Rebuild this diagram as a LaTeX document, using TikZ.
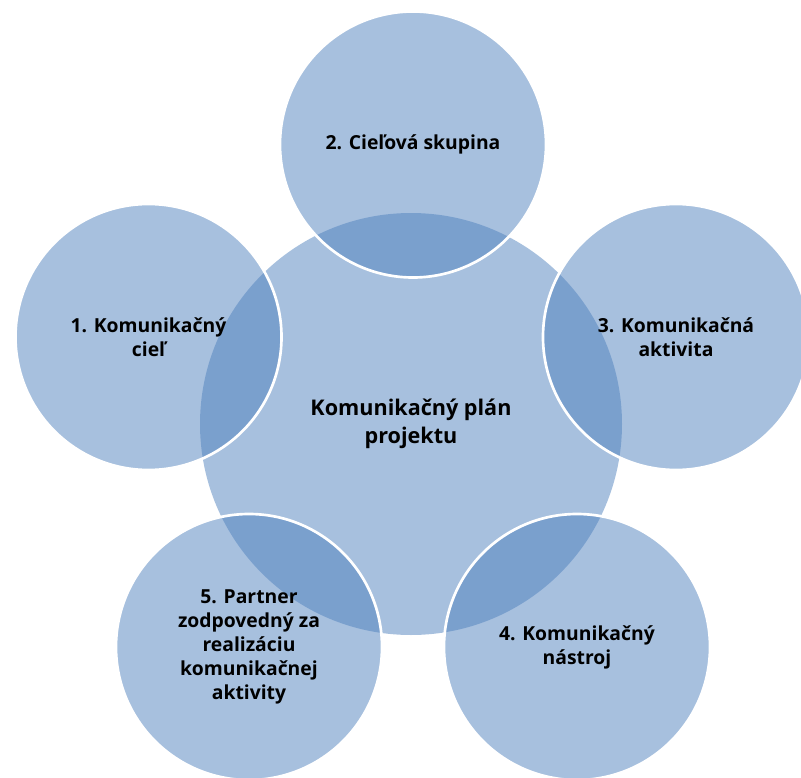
\documentclass[tikz,border=0pt]{standalone}
\usepackage{fontspec}
\setmainfont{Open Sans}
\definecolor{accblue}{HTML}{4F81BD}
\tikzset{
  outercirc/.style={circle, inner sep=0pt, minimum size=199.5pt, fill=accblue, fill opacity=0.5, text opacity=1, draw=white, line width=2pt, align=center, font=\bfseries\fontsize{14.5}{18}\selectfont, text=black},
  centercirc/.style={circle, inner sep=0pt, minimum size=316.5pt, fill=accblue, fill opacity=0.5, text opacity=1, align=center, font=\bfseries\fontsize{16.2}{20.6}\selectfont, text=black}
}
\begin{document}
\begin{tikzpicture}[x=0.75pt, y=-0.75pt]
\useasboundingbox (0,0) rectangle (801,778);
\node[centercirc] (c) at (411,424) {Komunikačný plán\\projektu};
\node[outercirc] (n2) at (413,144.5) {2. Cieľová skupina};
\node[outercirc] (n3) at (676,337) {3. Komunikačná\\aktivita};
\node[outercirc] (n4) at (577,647) {4. Komunikačný\\nástroj};
\node[outercirc] (n5) at (249,647) {5. Partner\\zodpovedný za\\realizáciu\\komunikačnej\\aktivity};
\node[outercirc] (n1) at (148.5,337) {1. Komunikačný\\cieľ};
\end{tikzpicture}
\end{document}
